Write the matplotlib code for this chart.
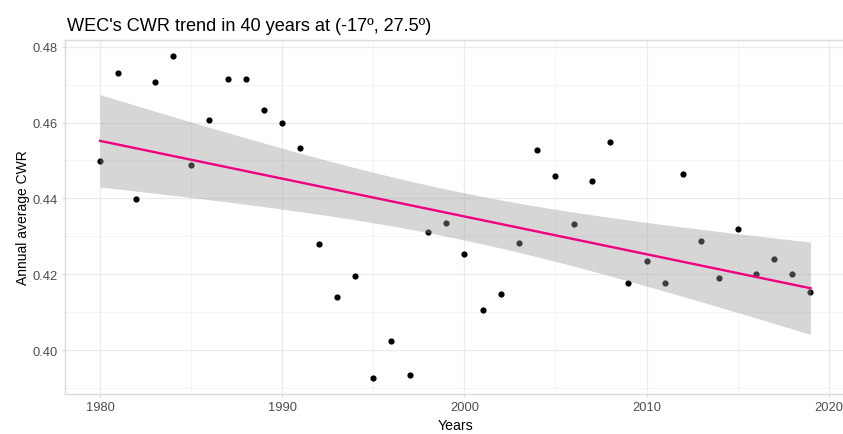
import numpy as np
import matplotlib
matplotlib.use("Agg")
import matplotlib.pyplot as plt

years = list(range(1980, 2020))
cwr = [0.4499, 0.4731, 0.4399, 0.4707, 0.4776, 0.4488, 0.4607, 0.4716, 0.4716, 0.4633,
       0.4598, 0.4534, 0.4280, 0.4140, 0.4195, 0.3926, 0.4025, 0.3933, 0.4312, 0.4336,
       0.4253, 0.4105, 0.4148, 0.4283, 0.4528, 0.4460, 0.4332, 0.4445, 0.4548, 0.4176,
       0.4234, 0.4177, 0.4465, 0.4288, 0.4189, 0.4318, 0.4200, 0.4239, 0.4201, 0.4153]
x_ticks = [1980, 1990, 2000, 2010, 2020]
y_ticks = [0.40, 0.42, 0.44, 0.46, 0.48]
title = "WEC's CWR trend in 40 years at (-17º, 27.5º)"
xlabel = "Years"
ylabel = "Annual average CWR"

plt.rcParams['font.family'] = ['Liberation Sans', 'DejaVu Sans']

W, H = 843, 435
fig = plt.figure(figsize=(W / 100, H / 100), dpi=100)
L, R, T, B = 64.5, 846, 40.5, 395
ax = fig.add_axes([L / W, 1 - B / H, (R - L) / W, (B - T) / H])

x = np.array(years, dtype=float)
y = np.array(cwr)
# linear fit with 95% confidence band (like geom_smooth(method='lm'))
n = len(x)
slope, intercept = np.polyfit(x, y, 1)
xs = np.linspace(x.min(), x.max(), 200)
fit = intercept + slope * xs
resid = y - (intercept + slope * x)
s = np.sqrt(np.sum(resid ** 2) / (n - 2))
sxx = np.sum((x - x.mean()) ** 2)
se = s * np.sqrt(1 / n + (xs - x.mean()) ** 2 / sxx)
tval = 2.0244  # t quantile 0.975, df = 38

ax.scatter(x, y, s=20, color='black', zorder=3, linewidths=0)
ax.fill_between(xs, fit - tval * se, fit + tval * se, color='#999999', alpha=0.4,
                linewidth=0, zorder=4)
ax.plot(xs, fit, color='#F00080', linewidth=1.7, zorder=5)

ax.set_xlim(1978.05, 2020.95)
ax.set_ylim(0.3884, 0.4819)
ax.set_xticks(x_ticks)
ax.set_yticks(y_ticks)
ax.set_xticklabels([str(v) for v in x_ticks])
ax.set_yticklabels([f"{v:.2f}" for v in y_ticks])
ax.set_xticks([1985, 1995, 2005, 2015], minor=True)
ax.set_yticks([0.39, 0.41, 0.43, 0.45, 0.47], minor=True)

ax.grid(True, which='major', color='#ebebeb', linewidth=0.9, zorder=0)
ax.grid(True, which='minor', color='#f2f2f2', linewidth=0.6, zorder=0)
ax.set_axisbelow(True)

for sp in ax.spines.values():
    sp.set_color('#dadada')
    sp.set_linewidth(1.0)

ax.tick_params(which='major', length=2.5, width=0.8, color='#dadada',
               labelsize=9.3, labelcolor='#4d4d4d', pad=2.5)
ax.tick_params(which='minor', length=0)

fig.text(67 / W, 1 - 31 / H, title, fontsize=13.1, color='black',
         ha='left', va='baseline')
fig.text((L + R) / 2 / W, 1 - 430 / H, xlabel, fontsize=10.2, color='black',
         ha='center', va='baseline')
fig.text(26.7 / W, 1 - (T + B) / 2 / H, ylabel, fontsize=10.0, color='black',
         ha='center', va='baseline', rotation=90, rotation_mode='anchor')

fig.savefig('out.png', dpi=100)
